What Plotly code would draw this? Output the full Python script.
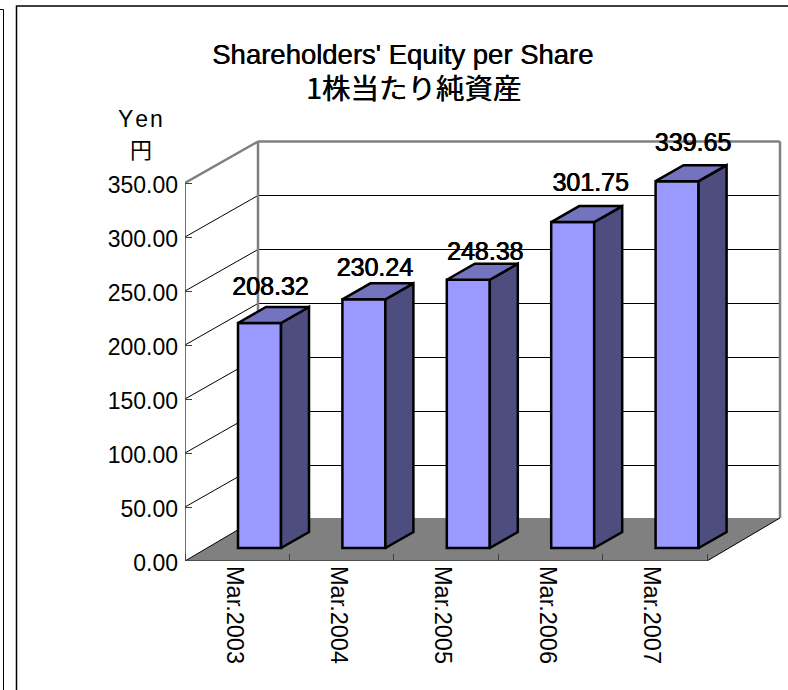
import plotly.graph_objects as go

categories = ["Mar.2003", "Mar.2004", "Mar.2005", "Mar.2006", "Mar.2007"]
values = [208.32, 230.24, 248.38, 301.75, 339.65]
y_ticks = [0, 50, 100, 150, 200, 250, 300, 350]
y_tick_labels = ["0.00", "50.00", "100.00", "150.00", "200.00", "250.00", "300.00", "350.00"]

# geometry (pixels on the page)
W, H = 788, 690
L, B = 185, 561          # origin of the front-left corner
WALL_DX, FLOOR_DY, WALL_DY = 73, 43, 41.5
PX_X = 104.4             # pixels per category
PX_Y = 1.08              # pixels per yen
R_EDGE = 785
T_EDGE = 135
ux = lambda p: p / PX_X
uy = lambda p: p / PX_Y
depth_x, floor_y, depth_y = ux(WALL_DX), uy(FLOOR_DY), uy(WALL_DY)
bar_w = ux(43)
bar_dx, bar_base = ux(22.3), uy(13)
side_x, side_y = ux(28), uy(16)
n = len(categories)
paper_x = lambda p: (p - L) / (R_EDGE - L)
paper_y = lambda p: (B - p) / (B - T_EDGE)

GREY = "#808080"
shapes = []
def line(x0, y0, x1, y1, color, width):
    shapes.append(dict(type="line", xref="x", yref="y", x0=x0, y0=y0, x1=x1, y1=y1,
                       line=dict(color=color, width=width), layer="below"))

# floor
shapes.append(dict(type="path", xref="x", yref="y", layer="below", fillcolor=GREY,
                   line=dict(width=0),
                   path=f"M0,0 L{n},0 L{n+depth_x},{floor_y} L{depth_x},{floor_y} Z"))
# grid on both walls
for t in y_ticks[1:-1]:
    line(0, t, depth_x, t + depth_y, "#000000", 1)
    line(depth_x, t + depth_y, n + depth_x, t + depth_y, "#000000", 1)
# wall edges
top = 350 + depth_y
line(0, 350, depth_x, top, GREY, 2.5)
line(depth_x, top, n + depth_x, top, GREY, 2.5)
line(depth_x, floor_y, depth_x, top, GREY, 2.5)
line(n + depth_x, floor_y, n + depth_x, top, GREY, 2.5)
line(0, 0, depth_x, floor_y, "#000000", 1)
line(n, 0, n + depth_x, floor_y, "#000000", 1)
# chart frames
for p, w in [
    (dict(x0=paper_x(16.5), x1=paper_x(800), y0=paper_y(700), y1=paper_y(6)), 1.5),
    (dict(x0=paper_x(-20), x1=paper_x(3.5), y0=paper_y(700), y1=paper_y(9.5)), 1),
]:
    shapes.append(dict(type="rect", xref="paper", yref="paper", layer="below",
                       line=dict(color="#000000", width=w), fillcolor="rgba(0,0,0,0)", **p))

centers = [i + 0.5 for i in range(n)]
fig = go.Figure()

# axis lines
fig.add_trace(go.Scatter(x=[0, 0], y=[0, 350], mode="lines", line=dict(color="#404040", width=1.5),
                         hoverinfo="skip", showlegend=False))
fig.add_trace(go.Scatter(x=[0, n], y=[0, 0], mode="lines", line=dict(color="#404040", width=1.5),
                         hoverinfo="skip", showlegend=False))

# bar fronts
fig.add_trace(go.Bar(x=[c + bar_dx for c in centers], y=values, base=[bar_base] * n, width=bar_w,
                     marker=dict(color="#9999FF", line=dict(color="#000000", width=2.5)),
                     showlegend=False))

# bar sides and tops
for c, v in zip(centers, values):
    r = c + bar_dx + bar_w / 2
    l = c + bar_dx - bar_w / 2
    t = v + bar_base
    fig.add_trace(go.Scatter(
        x=[r, r + side_x, r + side_x, r, r], y=[bar_base, bar_base + side_y, t + side_y, t, bar_base],
        mode="lines", fill="toself", fillcolor="#4D4D80", line=dict(color="#000000", width=2.5),
        hoverinfo="skip", showlegend=False))
    fig.add_trace(go.Scatter(
        x=[l, r, r + side_x, l + side_x, l], y=[t, t, t + side_y, t + side_y, t],
        mode="lines", fill="toself", fillcolor="#7373BF", line=dict(color="#000000", width=2.5),
        hoverinfo="skip", showlegend=False))

# value labels (shifts in pixels from the top of each bar front)
label_shift_x = [11, 11, 17, 18, 16]
label_shift_y = [34, 30, 26, 37, 36]
BOLDISH = "0.5px 0 0 #000, -0.3px 0 0 #000"
fig.add_trace(go.Scatter(
    x=[c + bar_dx + ux(dx) for c, dx in zip(centers, label_shift_x)],
    y=[v + bar_base + uy(dy) for v, dy in zip(values, label_shift_y)],
    mode="text", text=[f"{v:.2f}" for v in values], textposition="middle center",
    textfont=dict(family="Liberation Sans", size=25, color="#000000", shadow=BOLDISH),
    hoverinfo="skip", showlegend=False, cliponaxis=False))

FONT = "Liberation Sans"
fig.update_layout(
    width=W, height=H, margin=dict(l=L, r=W - R_EDGE, t=T_EDGE, b=H - B, autoexpand=False),
    paper_bgcolor="#FFFFFF", plot_bgcolor="rgba(0,0,0,0)", showlegend=False, shapes=shapes,
    font=dict(family=FONT, color="#000000"),
    xaxis=dict(range=[0, ux(R_EDGE - L)], tickvals=centers, ticktext=categories, tickangle=90,
               ticks="", showgrid=False, zeroline=False, showline=False,
               tickfont=dict(family=FONT, size=23.5), ticklabelstandoff=4, ticklabelshift=-3,
               layer="above traces",
               minor=dict(ticks="inside", tick0=0, dtick=1, ticklen=7, tickcolor="#404040",
                          tickwidth=1, showgrid=False)),
    yaxis=dict(range=[0, uy(B - T_EDGE)], tickvals=y_ticks, ticktext=y_tick_labels, ticks="inside",
               ticklen=7, tickcolor="#404040", tickwidth=1, showgrid=False, zeroline=False,
               showline=False, tickfont=dict(family=FONT, size=23), ticklabelstandoff=6,
               ticklabelshift=2, layer="above traces"),
    annotations=[
        dict(text="Shareholders' Equity per Share", xref="paper", yref="paper",
             x=paper_x(402), y=paper_y(54), showarrow=False, xanchor="center", yanchor="middle",
             font=dict(family=FONT, size=27.5, shadow="0.5px 0 0 #000")),
        dict(text="1株当たり純資産", xref="paper", yref="paper",
             x=paper_x(413), y=paper_y(86), showarrow=False, xanchor="center", yanchor="middle",
             font=dict(family="Noto Sans CJK JP", size=28.5, shadow="0.5px 0 0 #000")),
        dict(text="Y\u200ae\u200an\u200a", xref="paper", yref="paper",
             x=paper_x(141), y=paper_y(119),
             showarrow=False, xanchor="center", yanchor="middle", font=dict(family=FONT, size=23)),
        dict(text="円", xref="paper", yref="paper", x=paper_x(141), y=paper_y(148),
             showarrow=False, xanchor="center", yanchor="middle",
             font=dict(family="Noto Sans CJK JP", size=22)),
    ],
)

fig.write_html("out.html", config={"displayModeBar": False},
               post_script="document.body.style.margin='0';")
